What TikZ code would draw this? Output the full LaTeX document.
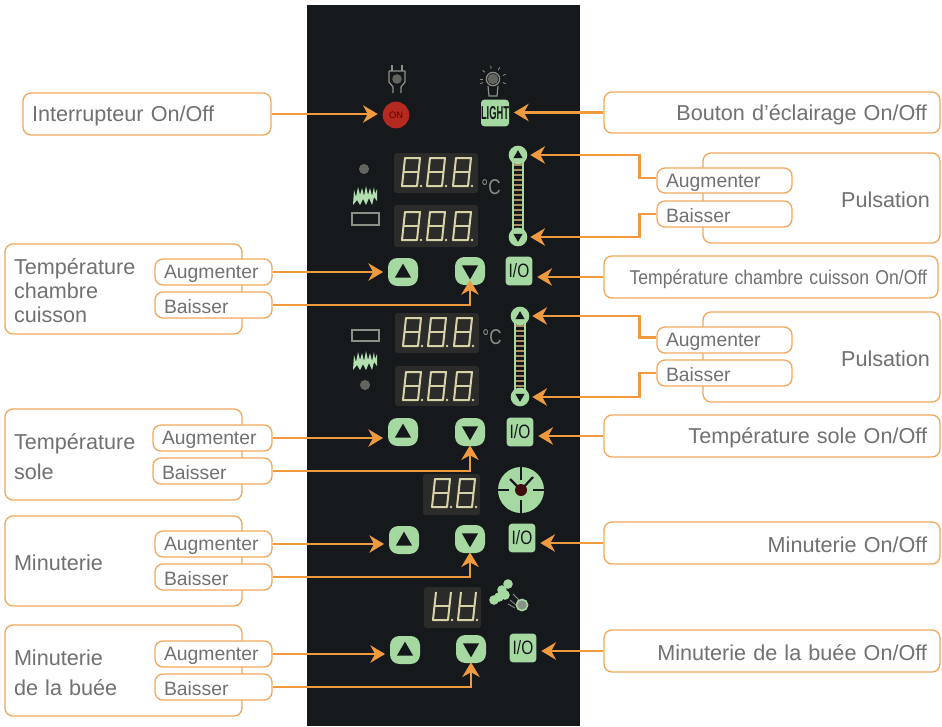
\documentclass[tikz,border=0pt]{standalone}
\usepackage{fontspec}
\setmainfont{Liberation Sans}
\usetikzlibrary{arrows.meta,shapes.geometric,calc}
\definecolor{org}{HTML}{EF9A3E}
\definecolor{orgl}{HTML}{F2A85C}
\definecolor{txt}{HTML}{6F7172}
\definecolor{panel}{HTML}{15191C}
\definecolor{grn}{HTML}{A6D8A2}
\definecolor{seg}{HTML}{D8D2A8}
\definecolor{dsp}{HTML}{2B2C2A}
\definecolor{ico}{HTML}{8C9188}
\definecolor{dk}{HTML}{14181A}
\definecolor{pwr}{HTML}{B52A20}
\tikzset{
  boxbase/.style={draw=orgl,line width=1pt,rounded corners=6pt,fill=white,text=txt,inner ysep=0pt},
  bigbox/.style={boxbase,font=\fontsize{16.2}{18}\selectfont},
  smallbox/.style={boxbase,font=\fontsize{14.5}{16}\selectfont},
  btn/.style={fill=grn,rounded corners=7pt,minimum width=22.5pt,minimum height=21pt,inner sep=0pt},
  iobtn/.style={fill=grn,rounded corners=2.5pt,minimum width=20pt,minimum height=21.5pt,inner sep=0pt,text=dk,font=\fontsize{14.5}{15}\selectfont},
  conn/.style={draw=org,line width=2pt},
  arr/.style={conn,-{Stealth[length=11pt,width=13pt,inset=3.5pt]},shorten >=3.5pt},
  arrv/.style={conn,-{Stealth[length=11pt,width=13pt,inset=3.5pt]}},
  arrs/.style={conn,-{Stealth[length=11pt,width=13pt,inset=3.5pt]},shorten >=2pt},
  digitline/.style={draw=seg,line width=1.5pt,line join=round},
  iconline/.style={draw=ico,line width=.9pt},
  tri/.style={regular polygon,regular polygon sides=3,fill=dk,inner sep=0pt,minimum size=15pt},
  dsplay/.style={fill=dsp,rounded corners=2pt,minimum width=1pt,inner sep=0pt},
  ringbtn/.style={circle,fill=grn,minimum size=14pt,inner sep=0pt},
  degc/.style={text=ico,font=\fontsize{16}{17}\selectfont},
}
% name x1 y1 x2 y2 style pad align text
\newcommand\bx[9]{\node[#6,inner xsep=#7*0.75pt,minimum width={(#4-#2)*0.75pt},minimum height={(#5-#3)*0.75pt},text width={(#4-#2-2*#7)*0.75pt},align=#8] (#1) at ({(#2+#4)/2},{(#3+#5)/2}) {\rule{0pt}{.93em}#9};}
\newcommand\upb[3]{\node[btn] (#1) at (#2,#3) {};\node[tri,minimum size=14pt] (#1t) at (#2,#3+1) {};}
\newcommand\dnb[3]{\node[btn] (#1) at (#2,#3) {};\node[tri,shape border rotate=180,minimum size=14pt] (#1t) at (#2,#3-1) {};}
\newcommand\iob[3]{\node[iobtn] (#1) at (#2,#3) {\scalebox{.8}[1]{I/O}};}
% x y  : top-left of a digit; #3=1 draws the top bar
\newcommand\dig[3]{%
  \ifnum#3=1
    \draw[digitline] (#1+3,#2) -- (#1+18,#2) -- (#1+15,#2+28) -- (#1,#2+28) -- cycle;
  \else
    \draw[digitline] (#1+3,#2) -- (#1,#2+28) -- (#1+15,#2+28) -- (#1+18,#2);
  \fi
  \draw[digitline] (#1+1.5,#2+14) -- (#1+16.5,#2+14);
  \fill[seg] (#1+19,#2+28) circle (1.1pt);}
\newcommand\dspbox[5]{%  name x1 y1 x2 y2
  \node[dsplay,minimum width={(#4-#2)*0.75pt},minimum height={(#5-#3)*0.75pt}] (#1) at ({(#2+#4)/2},{(#3+#5)/2}) {};}
\newcommand\scroll[4]{% name-prefix x ytop ybot
  \draw[draw=grn,line width=.8pt,fill=dk] (#2-5,#3) rectangle (#2+5,#4);
  \foreach \yy in {10,15,...,70} \draw[draw=ico!70!orange,line width=1pt] (#2-4,#3+\yy) -- (#2+4,#3+\yy);
  \node[ringbtn] (#1a) at (#2,#3) {};
  \node[tri,minimum size=8pt] at (#2,#3+.5) {};
  \node[ringbtn] (#1b) at (#2,#4) {};
  \node[tri,shape border rotate=180,minimum size=8pt] at (#2,#4-.5) {};}
\newcommand\flame[2]{% x ytop
  \fill[grn!85!white] (#1-12,#2+20) -- (#1-11,#2+5) -- (#1-9,#2+12) -- (#1-7,#2+2) -- (#1-5,#2+10) -- (#1-3,#2+3) -- (#1-1,#2+11) -- (#1+1,#2+1) -- (#1+3,#2+10) -- (#1+5,#2+3) -- (#1+7,#2+11) -- (#1+9,#2+2) -- (#1+10,#2+9) -- (#1+12,#2+4) -- (#1+12,#2+16) -- (#1+9,#2+12) -- (#1+7,#2+20) -- (#1+4,#2+13) -- (#1+1,#2+20) -- (#1-2,#2+14) -- (#1-5,#2+20) -- (#1-8,#2+15) -- cycle;}
\begin{document}
\begin{tikzpicture}[x=0.75pt,y=-0.75pt]
\useasboundingbox (0,0) rectangle (942,726);
\fill[white] (0,0) rectangle (942,726);
% panel
\fill[panel] (307,5) rectangle (580,726);

% icons: plug and bulb
\draw[iconline] (392,65) -- (392,71) (402,65) -- (402,71);
\draw[iconline,line join=round] (389,71) -- (405,71) -- (405,82) -- (401,87) -- (401,93) (389,71) -- (389,82) -- (393,87) -- (393,93);
\fill[ico!70!black] (397,79) circle (3.6pt);
\fill[ico!70!black] (493,79) circle (4pt);
\draw[iconline] (493,79) circle (5pt);
\draw[iconline] (488,86) -- (489,96) -- (497,96) -- (498,86);
\foreach \a in {0,40,80,120,160,200,-20} \draw[iconline,line width=.6pt] ($(493,79)+(\a+180:10.5)$) -- ($(493,79)+(\a+180:13.5)$);
% power and light
\node[circle,fill=pwr,minimum size=20pt,inner sep=0pt,font=\fontsize{7}{7}\selectfont,text=red!40!black] (power) at (396,115) {ON};
\node[fill=grn,rounded corners=2.5pt,minimum width=19.5pt,minimum height=20pt,inner sep=0pt,text=dk] (light) at (495,113) {\scalebox{.5}[1]{\fontsize{14}{15}\selectfont\bfseries LIGHT}};

% group 1 displays
\dspbox{d1a}{394}{153}{478}{193}
\dspbox{d1b}{394}{205}{478}{247}
\dig{402}{158}{1}\dig{427}{158}{1}\dig{453}{158}{1}
\dig{402}{212}{1}\dig{427}{212}{1}\dig{453}{212}{1}
\node[degc] (c1) at (491,187) {\scalebox{.8}[1]{°C}};
\fill[ico!70!black] (364,169) circle (3.8pt);
\flame{365}{185}
\draw[iconline] (352,213) rectangle (379,225);
\scroll{s1}{518}{155}{237}

% group 2 displays
\dspbox{d2a}{395}{313}{479}{353}
\dspbox{d2b}{395}{366}{479}{406}
\dig{403}{318}{1}\dig{428}{318}{1}\dig{454}{318}{1}
\dig{403}{372}{1}\dig{428}{372}{1}\dig{454}{372}{1}
\node[degc] (c2) at (492,337) {\scalebox{.8}[1]{°C}};
\draw[iconline] (352,330) rectangle (379,341);
\flame{365}{350}
\fill[ico!70!black] (365,385) circle (3.8pt);
\scroll{s2}{520}{316}{397}

% timer display and clock
\dspbox{d3}{423}{474}{480}{515}
\dig{432}{479}{1}\dig{457}{479}{1}
\node[circle,fill=grn,minimum size=34.5pt,inner sep=0pt] (clock) at (521,490) {};
\draw[draw=dk,line width=1pt] (521,466) -- (521,480) (521,500) -- (521,514) (497,490) -- (509,490) (533,490) -- (545,490);
\draw[draw=dk,line width=1.6pt] (521,490) -- (510,479) (521,490) -- (533,477);
\fill[black!55!red!45!dk] (521,490) circle (4.5pt);

% steam display and icon
\dspbox{d4}{424}{587}{481}{628}
\dig{433}{592}{0}\dig{458}{592}{0}
\foreach \p in {(494,600),(499,597),(505,595),(502,590),(508,584)} \fill[grn] \p circle (3.6pt);
\draw[draw=grn,line width=1.2pt,fill=ico] (522,605) circle (4.2pt);
\draw[iconline,line width=.6pt] (510,600) -- (516,605) (513,594) -- (519,600) (508,604) -- (515,608);

% buttons
\upb{u1}{403}{272}\dnb{d1}{470}{271}\iob{io1}{519}{271}
\upb{u2}{403}{432}\dnb{d2}{470}{432}\iob{io2}{520}{432}
\upb{u3}{404}{540}\dnb{d3b}{470}{539}\iob{io3}{522}{538}
\upb{u4}{405}{650}\dnb{d4b}{471}{649}\iob{io4}{523}{648}

% left boxes
\bx{binter}{23}{93}{271}{135}{bigbox}{9}{left}{Interrupteur On/Off}
\bx{ltc}{5}{244}{242}{334}{bigbox}{9}{left}{Température\\chambre\\cuisson}
\bx{lts}{5}{409}{242}{500}{bigbox}{9}{left}{Température\\[5pt]sole}
\bx{lmi}{5}{516}{242}{606}{bigbox}{9}{left}{Minuterie}
\bx{lmb}{5}{625}{242}{716}{bigbox}{9}{left}{Minuterie\\[4pt]de la buée}
\bx{au1}{155}{259}{272}{285}{smallbox}{9}{left}{Augmenter}
\bx{ba1}{155}{292}{272}{318}{smallbox}{9}{left}{Baisser}
\bx{au2}{153}{425}{272}{451}{smallbox}{9}{left}{Augmenter}
\bx{ba2}{153}{458}{272}{484}{smallbox}{9}{left}{Baisser}
\bx{au3}{155}{531}{272}{557}{smallbox}{9}{left}{Augmenter}
\bx{ba3}{155}{564}{272}{590}{smallbox}{9}{left}{Baisser}
\bx{au4}{155}{641}{272}{667}{smallbox}{9}{left}{Augmenter}
\bx{ba4}{155}{674}{272}{700}{smallbox}{9}{left}{Baisser}

% right boxes
\bx{blight}{604}{92}{940}{133}{bigbox}{13}{right}{Bouton d’éclairage On/Off}
\bx{pu1}{703}{153}{940}{243}{bigbox}{10}{right}{Pulsation}
\bx{pa1}{657}{168}{792}{193}{smallbox}{9}{left}{Augmenter}
\bx{pb1}{657}{201}{792}{227}{smallbox}{9}{left}{Baisser}
\bx{btc}{604}{256}{938}{298}{bigbox}{11}{right}{\fontsize{15}{16}\selectfont\scalebox{.88}[1]{Température chambre cuisson On/Off}}
\bx{pu2}{703}{312}{940}{402}{bigbox}{10}{right}{Pulsation}
\bx{pa2}{657}{327}{792}{353}{smallbox}{9}{left}{Augmenter}
\bx{pb2}{657}{360}{792}{386}{smallbox}{9}{left}{Baisser}
\bx{bts}{604}{415}{940}{457}{bigbox}{13}{right}{Température sole On/Off}
\bx{bmi}{604}{522}{940}{564}{bigbox}{13}{right}{Minuterie On/Off}
\bx{bmb}{604}{630}{940}{672}{bigbox}{13}{right}{Minuterie de la buée On/Off}

% connectors
\draw[arr] (binter.east) -- (binter.east -| power.west);
\draw[arr] (blight.west) -- (blight.west -| light.east);
\foreach \au/\ba/\u/\d/\ys in {au1/ba1/u1/d1/4,au2/ba2/u2/d2/.75,au3/ba3/u3/d3b/.75,au4/ba4/u4/d4b/.75}{
  \draw[arr] (\au.east) -- (\au.east -| \u.west);
  \draw[arrv] (\ba.east) -| ([yshift=\ys pt]\d.south);
}
\foreach \b/\i in {btc/io1,bts/io2,bmi/io3,bmb/io4}
  \draw[arr] (\b.west) -- (\b.west -| \i.east);
\foreach \p/\s in {pa1/s1a,pa2/s2a}
  \draw[arrs] ([yshift=1.8pt]\p.west) -- ++(-17,0) |- (\s.east);
\foreach \p/\s in {pb1/s1b,pb2/s2b}
  \draw[arrs] (\p.west) -- ++(-17,0) |- (\s.east);
\end{tikzpicture}
\end{document}
